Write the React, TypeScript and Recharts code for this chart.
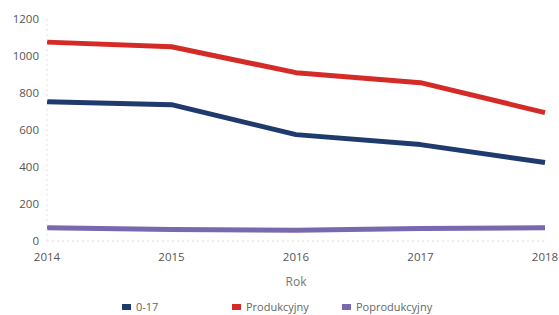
import React from 'react';
import { LineChart, Line, XAxis, YAxis, Legend } from 'recharts';

const years = ['2014', '2015', '2016', '2017', '2018'];
const age017 = [753, 737, 575, 521, 424];
const produkcyjny = [1075, 1050, 910, 856, 694];
const poprodukcyjny = [71, 62, 58, 67, 71];
const yTicks = [0, 200, 400, 600, 800, 1000, 1200];

const seriesMeta = [
  { key: 'a', name: '0-17', color: '#1f3a6d' },
  { key: 'b', name: 'Produkcyjny', color: '#d42b27' },
  { key: 'c', name: 'Poprodukcyjny', color: '#7868ad' },
];

const data = years.map((y, i) => ({
  year: y,
  a: age017[i],
  b: produkcyjny[i],
  c: poprodukcyjny[i],
}));

const font = '"Open Sans", "DejaVu Sans", sans-serif';

function LegendBox() {
  return (
    <div style={{ display: 'flex', paddingLeft: 122, paddingTop: 6, fontFamily: font, fontSize: 11, color: '#666' }}>
      {seriesMeta.map(s => (
        <div key={s.key} style={{ width: 110, display: 'flex', alignItems: 'center' }}>
          <span style={{ display: 'inline-block', width: 9, height: 6, background: s.color, marginRight: 5 }} />
          <span>{s.name}</span>
        </div>
      ))}
    </div>
  );
}

export default function App() {
  return (
    <div style={{ position: 'absolute', left: 0, top: 0, background: '#fff' }}>
      <LineChart width={559} height={315} data={data} margin={{ top: 19, right: 14, left: 0, bottom: 0 }}>
        <XAxis
          dataKey="year"
          tickSize={0}
          tickMargin={12}
          height={52}
          axisLine={{ stroke: '#dcdcdc', strokeDasharray: '2 3' }}
          tick={{ fill: '#555', fontSize: 11.5, fontFamily: font }}
          label={{ value: 'Rok', position: 'insideBottom', offset: 7, fill: '#777', fontSize: 12, fontFamily: font }}
        />
        <YAxis
          type="number"
          domain={[0, 1200]}
          ticks={yTicks}
          width={47}
          tickSize={0}
          tickMargin={8}
          axisLine={{ stroke: '#e2e2e2', strokeDasharray: '2 3' }}
          tick={{ fill: '#555', fontSize: 11.5, fontFamily: font }}
        />
        <Legend verticalAlign="bottom" height={22} content={() => <LegendBox />} />
        {seriesMeta.map(s => (
          <Line
            key={s.key}
            dataKey={s.key}
            name={s.name}
            stroke={s.color}
            strokeWidth={5}
            dot={false}
            type="linear"
            strokeLinejoin="round"
            isAnimationActive={false}
          />
        ))}
      </LineChart>
    </div>
  );
}
